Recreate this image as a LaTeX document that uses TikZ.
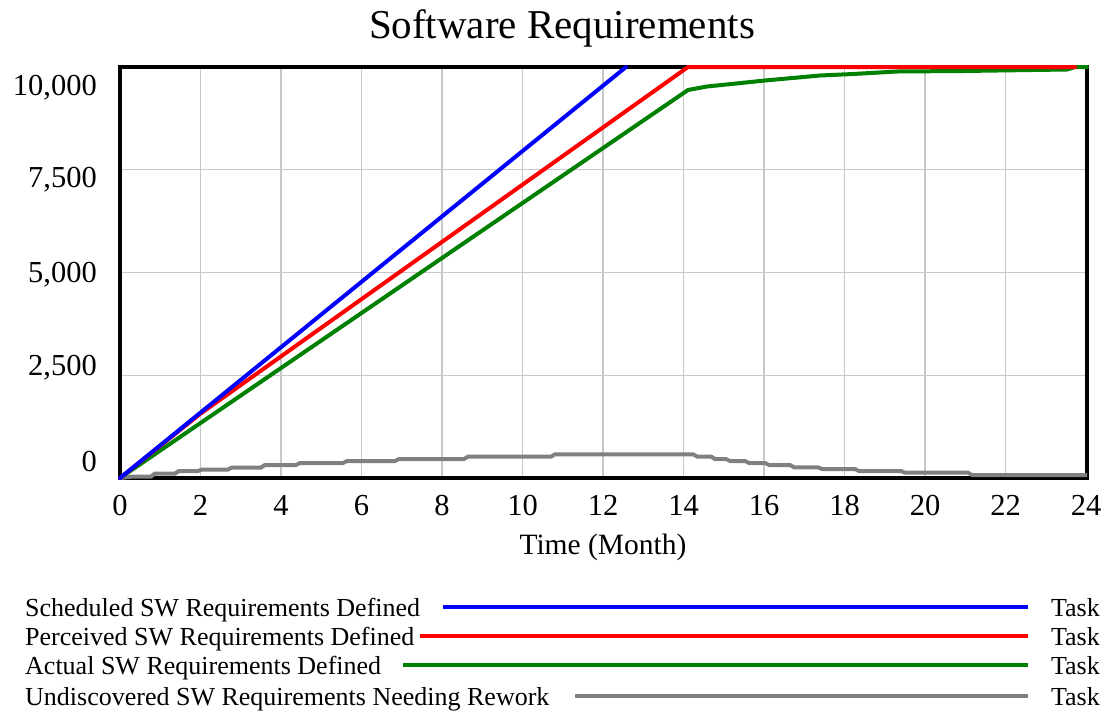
\documentclass[tikz,border=0pt]{standalone}
\usepackage{fontspec}
\setmainfont{Liberation Serif}
\definecolor{gridgray}{RGB}{200,200,200}
\definecolor{serblue}{RGB}{0,0,255}
\definecolor{serred}{RGB}{255,0,0}
\definecolor{sergreen}{RGB}{0,128,0}
\definecolor{sergray}{RGB}{128,128,128}
\begin{document}
\begin{tikzpicture}[x=1pt,y=-1pt,
  gridline/.style={draw=gridgray,line width=1.2},
  frameline/.style={draw=black,line width=3.2},
  curve/.style={line width=4,line join=round,line cap=round},
  keyline/.style={line width=3.6},
  ticky/.style={anchor=base east,inner sep=0,font=\fontsize{30.5}{30.5}\selectfont},
  tickx/.style={anchor=base,inner sep=0,font=\fontsize{30.5}{30.5}\selectfont},
  keytext/.style={anchor=base west,inner sep=0,font=\fontsize{26}{26}\selectfont},
  unittext/.style={anchor=base east,inner sep=0,font=\fontsize{26}{26}\selectfont}]
\useasboundingbox (0,0) rectangle (1107,715);

% title
\node[anchor=base,inner sep=0,font=\fontsize{41}{41}\selectfont] (title) at (562,38) {Software Requirements};

% grid: months every 2, tasks every 2,500
\foreach \k in {1,...,11}
  \draw[gridline] ({120+80.5*\k},67) -- ({120+80.5*\k},478);
\foreach \v in {169.3,272.8,375.6}
  \draw[gridline] (120,\v) -- (1087,\v);

% plot frame
\draw[frameline] (120,67) rectangle (1087,478);

% y tick labels
\node[ticky] (y0) at (97,95.6) {10,000};
\node[ticky] (y1) at (97,187.8) {7,500};
\node[ticky] (y2) at (97,282) {5,000};
\node[ticky] (y3) at (97,375.3) {2,500};
\node[ticky] (y4) at (97,471) {0};

% x tick labels
\foreach \k in {0,...,12}
  \node[tickx] (x\k) at ({120+80.5*\k},515) {\the\numexpr 2*\k\relax};
\node[anchor=base,inner sep=0,font=\fontsize{29.5}{29.5}\selectfont] (xlabel) at (603,554) {Time (Month)};

% Undiscovered SW Requirements Needing Rework
\draw[curve,sergray,line join=miter,line cap=butt] (120,478) -- (133,476.5) -- (151,476.5) -- (155,473.5) -- (175,473.5) -- (179,471)
  -- (198,471) -- (202,469.5) -- (228,469.5) -- (232,467.5) -- (261,467.5) -- (265,465) -- (296,465) -- (300,463)
  -- (343,463) -- (347,461) -- (395,461) -- (399,459) -- (464,459) -- (468,456.7) -- (551,456.7) -- (555,454.3)
  -- (693,454.3) -- (697,456.5) -- (711,456.5) -- (715,459) -- (726,459) -- (730,461) -- (745,461) -- (749,463)
  -- (765,463) -- (769,465) -- (790,465) -- (794,467.3) -- (818,467.3) -- (822,469) -- (855,469) -- (859,471)
  -- (901,471) -- (905,472.7) -- (968,472.7) -- (972,475) -- (1087,475);

% Actual SW Requirements Defined
\draw[curve,sergreen] (120,478) -- (688,90) -- (707,86.5) -- (765,80.5) -- (820,75.5) -- (853,74) -- (897,71.5)
  -- (963,71) -- (1067,69.5) -- (1075,67) -- (1087,67);

% Perceived SW Requirements Defined
\draw[curve,serred] (120,478) -- (200,414) -- (688,67) -- (1075,67);

% Scheduled SW Requirements Defined
\draw[curve,serblue] (120,478) -- (626,67);

% key
\node[keytext] (k1) at (25,616) {Scheduled SW Requirements Defined};
\node[keytext] (k2) at (25,645) {Perceived SW Requirements Defined};
\node[keytext] (k3) at (25,674) {Actual SW Requirements Defined};
\node[keytext] (k4) at (25,705) {Undiscovered SW Requirements Needing Rework};
\node[unittext] (u1) at (1100,616) {Task};
\node[unittext] (u2) at (1100,645) {Task};
\node[unittext] (u3) at (1100,674) {Task};
\node[unittext] (u4) at (1100,705) {Task};
\coordinate (s1) at (443,607); \coordinate (e1) at (1028,607);
\coordinate (s2) at (420,636); \coordinate (e2) at (1028,636);
\coordinate (s3) at (403,665); \coordinate (e3) at (1028,665);
\coordinate (s4) at (575,696); \coordinate (e4) at (1028,696);
\draw[keyline,serblue] (s1) -- (e1);
\draw[keyline,serred] (s2) -- (e2);
\draw[keyline,sergreen] (s3) -- (e3);
\draw[keyline,sergray] (s4) -- (e4);
\end{tikzpicture}
\end{document}
